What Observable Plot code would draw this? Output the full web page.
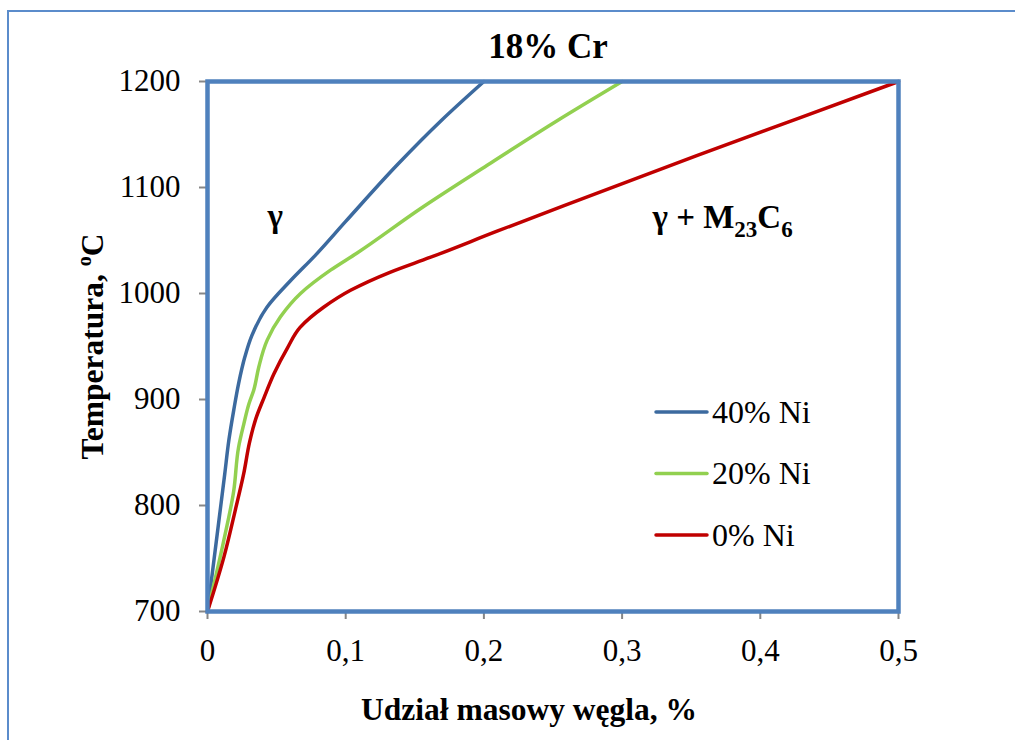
<!DOCTYPE html>
<html><head><meta charset="utf-8">
<script src="https://cdn.jsdelivr.net/npm/d3@7"></script>
<script src="https://cdn.jsdelivr.net/npm/@observablehq/plot@0.6"></script>
<style>
body{margin:0;overflow:hidden;background:#fff;}
#wrap{position:relative;width:1015px;height:740px;overflow:hidden;font-family:"Liberation Serif","Times New Roman",serif;background:#fff;}
#outer{position:absolute;left:7px;top:10px;width:1100px;height:800px;border:2px solid #5B8CCB;box-sizing:border-box;}
#chart{position:absolute;left:0;top:0;}
#legend{position:absolute;left:0;top:0;pointer-events:none;}
</style></head><body>
<div id="wrap"><div id="outer"></div><div id="chart"></div><svg id="legend" width="1015" height="740"></svg></div>
<script>
// ---- data ----
const seriesNames = ["40% Ni", "20% Ni", "0% Ni"];
const seriesColors = ["#3C6A9F", "#92D050", "#C00000"];

const carbon40 = [0, 0.0077, 0.0125, 0.0155, 0.019, 0.0225, 0.027, 0.032, 0.043, 0.060, 0.078, 0.100, 0.137, 0.169, 0.2];
const temp40   = [700, 780, 830, 862, 890, 915, 940, 960, 987, 1012, 1036, 1068, 1121, 1163, 1200];

const carbon20 = [0, 0.0118, 0.019, 0.0225, 0.0263, 0.030, 0.0335, 0.037, 0.0432, 0.0528, 0.0673, 0.089, 0.108, 0.154, 0.2024, 0.253, 0.3];
const temp20   = [700, 767, 814, 855, 877, 896, 909, 930, 956, 978, 1000, 1022, 1038, 1080, 1121, 1163, 1200];

const carbon0 = [0, 0.012, 0.020, 0.0262, 0.0305, 0.035, 0.041, 0.048, 0.058, 0.067, 0.084, 0.1035, 0.132, 0.161, 0.210, 0.258, 0.354, 0.429, 0.5];
const temp0   = [700, 752, 795, 830, 860, 882, 902, 924, 949, 968, 987, 1003, 1020, 1034, 1059, 1083, 1130, 1166, 1200];

const xTicks = [0, 0.1, 0.2, 0.3, 0.4, 0.5];
const yTicks = [700, 800, 900, 1000, 1100, 1200];

const titleText = "18% Cr";
const xTitle = "Udział masowy węgla, %";
const yTitle = "Temperatura, oC";

const regionLabels = [
  {c: 0.049, t: 1073, label: "γ"},
  {c: 0.3727, t: 1072, label: "γ + M23C6"}
];

// ---- build table ----
const rows = [];
[[carbon40, temp40], [carbon20, temp20], [carbon0, temp0]].forEach(([cs, ts], k) => {
  cs.forEach((c, i) => rows.push({series: seriesNames[k], c, t: ts[i]}));
});

const serif = '"Liberation Serif","Times New Roman",serif';
const fmtX = d => d === 0 ? "0" : String(d).replace(".", ",");
const fmtY = d => String(d);

const chart = Plot.plot({
  width: 1015, height: 740,
  marginLeft: 207, marginRight: 117, marginTop: 81, marginBottom: 129,
  style: {fontFamily: serif, fontSize: "31px", background: "transparent", color: "black", overflow: "visible"},
  x: {domain: [0, 0.5]},
  y: {domain: [700, 1200]},
  color: {domain: seriesNames, range: seriesColors},
  marks: [
    Plot.axisY({ticks: yTicks, tickFormat: fmtY, tickSize: 8, tickPadding: 19, stroke: "#868686", strokeWidth: 2, fontSize: 31, fontFamily: serif, label: null}),
    Plot.axisX({ticks: xTicks, tickFormat: fmtX, tickSize: 8, tickPadding: 19, stroke: "#868686", strokeWidth: 2, fontSize: 31, fontFamily: serif, label: null}),
    Plot.line(rows, {x: "c", y: "t", z: "series", stroke: "series", strokeWidth: 3.5, curve: "monotone-y"}),
    Plot.frame({stroke: "#4F81BD", strokeWidth: 4.5}),
    Plot.text(regionLabels, {x: "c", y: "t", text: "label", fontWeight: "bold", fontSize: 33, fontFamily: serif, fill: "black", lineAnchor: "middle", textAnchor: "middle"}),
    Plot.text([titleText], {frameAnchor: "top", dy: -35, dx: -5, text: d => d, fontWeight: "bold", fontSize: 35, fontFamily: serif, fill: "black", lineAnchor: "middle", textAnchor: "middle"}),
    Plot.text([xTitle], {frameAnchor: "bottom", dy: 98, dx: -24, text: d => d, fontWeight: "bold", fontSize: 31.5, fontFamily: serif, fill: "black", lineAnchor: "middle", textAnchor: "middle"}),
    Plot.text([yTitle], {frameAnchor: "left", dx: -115, rotate: -90, text: d => d, fontWeight: "bold", fontSize: 31.5, fontFamily: serif, fill: "black", lineAnchor: "middle", textAnchor: "middle"})
  ]
});
document.getElementById("chart").appendChild(chart);

// rich text: superscript / subscripts
d3.select(chart).selectAll("text").each(function() {
  const t = this.textContent;
  const sel = d3.select(this);
  if (t === yTitle) {
    sel.text(null);
    sel.append("tspan").text("Temperatura, ");
    sel.append("tspan").attr("dy", -12).attr("font-size", 20).text("o");
    sel.append("tspan").attr("dy", 12).text("C");
  } else if (t === "γ + M23C6") {
    sel.text(null);
    sel.append("tspan").text("γ + M");
    sel.append("tspan").attr("dy", 9).attr("font-size", 23).text("23");
    sel.append("tspan").attr("dy", -9).text("C");
    sel.append("tspan").attr("dy", 9).attr("font-size", 23).text("6");
  }
});

// legend
const lg = d3.select("#legend");
seriesNames.forEach((name, i) => {
  const y = 412 + i * 61.5;
  lg.append("line").attr("x1", 656).attr("x2", 707).attr("y1", y).attr("y2", y)
    .attr("stroke", seriesColors[i]).attr("stroke-width", 3.5).attr("stroke-linecap", "round");
  lg.append("text").attr("x", 712).attr("y", y).attr("dy", "0.34em")
    .attr("font-family", serif).attr("font-size", 32).attr("fill", "black").text(name);
});
</script>
</body></html>
